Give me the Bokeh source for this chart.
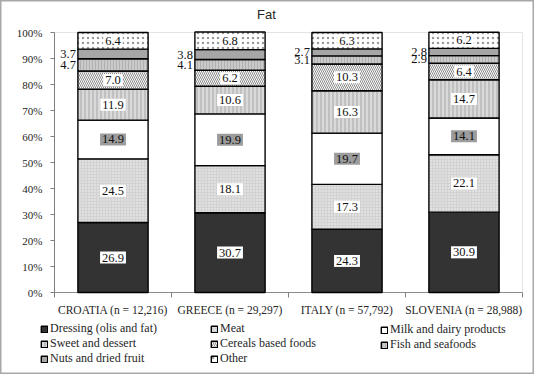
import numpy as np
from bokeh.plotting import figure
from bokeh.models import (ColumnDataSource, FixedTicker, Legend, LegendItem, Label,
                          PrintfTickFormatter, Range1d, BoxAnnotation)
from bokeh.core.properties import value
from bokeh.embed import file_html
from bokeh.resources import INLINE

countries = ["CROATIA (n = 12,216)", "GREECE (n = 29,297)", "ITALY (n = 57,792)", "SLOVENIA (n = 28,988)"]
groups = ["Dressing (olis and fat)", "Meat", "Milk and dairy products", "Sweet and dessert",
          "Cereals based foods", "Fish and seafoods", "Nuts and dried fruit", "Other"]
dressing = [26.9, 30.7, 24.3, 30.9]
meat = [24.5, 18.1, 17.3, 22.1]
milk = [14.9, 19.9, 19.7, 14.1]
sweet = [11.9, 10.6, 16.3, 14.7]
cereals = [7.0, 6.2, 10.3, 6.4]
fish = [4.7, 4.1, 3.1, 2.9]
nuts = [3.7, 3.8, 2.7, 2.8]
other = [6.4, 6.8, 6.3, 6.2]
y_ticks = [0, 10, 20, 30, 40, 50, 60, 70, 80, 90, 100]

series = [dressing, meat, milk, sweet, cereals, fish, nuts, other]
keys = ["s%d" % i for i in range(len(series))]
xs = [i + 0.5 for i in range(len(countries))]
BAR_W = 0.6

data = {"x": xs}
for k, s in zip(keys, series):
    data[k] = s
src = ColumnDataSource(data)

# geometry (pixels): figure 534x374; plot area inside it
W, H = 534, 374
PL, PR, PT, PB = 54, 522, 32, 292          # plot-area edges within the figure
NCAT, YMAX = len(countries), 100.0
ux = (PR - PL) / NCAT
uy = (PB - PT) / YMAX
x_range = Range1d(-PL / ux, NCAT + (W - PR) / ux)
y_range = Range1d(-(H - PB) / uy, YMAX + PT / uy)

SERIF = "Liberation Serif"
fills = ["#333333", "#d2d2d2", "#ffffff", "#c0c0c0", "#ffffff", "#cacaca", "#a6a6a6", "#ffffff"]
hatches = [None, "dot", None, "vertical_line", "left_diagonal_line", "vertical_line", None, "dot"]
hcolors = ["#000000", "#f4f4f4", "#000000", "#e2e2e2", "#8a8a8a", "#b0b0b0", "#000000", "#9a9a9a"]
hscales = [4, 3, 4, 4, 4, 3, 4, 5]
hweights = [1, 1, 1, 1.5, 1, 1, 1, 1]

p = figure(width=W, height=H, output_backend="svg", toolbar_location=None,
           x_range=x_range, y_range=y_range,
           min_border=0, min_border_left=0, min_border_right=0,
           min_border_top=0, min_border_bottom=0)
p.background_fill_color = "white"
p.border_fill_color = "white"
p.outline_line_color = "#a8a8a8"
p.outline_line_width = 2
p.xgrid.visible = False
p.ygrid.visible = False

# plot-area border
p.add_layout(BoxAnnotation(left=0, right=NCAT, bottom=0, top=YMAX, fill_alpha=0,
                           line_color="#a6a6a6", line_width=1, level="underlay"))

rends = p.vbar_stack(keys, x="x", width=BAR_W, source=src,
                     fill_color=fills, line_color="black", line_width=1.4,
                     hatch_pattern=hatches, hatch_color=hcolors, hatch_scale=hscales,
                     hatch_weight=hweights)

# value labels
arr = np.array(series)
cum = np.cumsum(arr, axis=0)
centers = cum - arr / 2.0
box_idx = [0, 1, 3, 4, 7]
for i in box_idx:
    s = ColumnDataSource(dict(x=xs, y=list(centers[i]), t=["%.1f" % v for v in series[i]]))
    p.text(x="x", y="y", text="t", source=s, text_font=value(SERIF), text_font_size="12.5px",
           text_align="center", text_baseline="middle", text_color="#111111",
           background_fill_color="white", padding=2)
s = ColumnDataSource(dict(x=xs, y=list(centers[2]), t=["%.1f" % v for v in milk]))
p.text(x="x", y="y", text="t", source=s, text_font=value(SERIF), text_font_size="12.5px",
       text_align="center", text_baseline="middle", text_color="#111111",
       background_fill_color="#9c9c9c", padding=2)
for i in [5, 6]:
    s = ColumnDataSource(dict(x=[x - BAR_W / 2 for x in xs], y=list(centers[i]),
                              t=["%.1f" % v for v in series[i]]))
    p.text(x="x", y="y", text="t", source=s, text_font=value(SERIF), text_font_size="12.5px",
           text_align="right", text_baseline="middle", text_color="#111111", x_offset=-2)

# axes (drawn at fixed data locations inside the frame)
ya = p.yaxis[0]
ya.fixed_location = 0
ya.bounds = (0, YMAX)
ya.ticker = FixedTicker(ticks=y_ticks, minor_ticks=[])
ya.formatter = PrintfTickFormatter(format="%d%%")
ya.major_tick_out = 4
ya.major_tick_in = 0
ya.major_label_standoff = 8
ya.axis_line_color = "#7f7f7f"
ya.major_tick_line_color = "#7f7f7f"
ya.major_label_text_font = SERIF
ya.major_label_text_font_size = "11px"
ya.major_label_text_color = "#262626"

xa = p.xaxis[0]
xa.fixed_location = 0
xa.bounds = (0, NCAT)
xa.level = "underlay"
xa.ticker = FixedTicker(ticks=xs, minor_ticks=list(range(NCAT + 1)))
xa.major_label_overrides = {x: c for x, c in zip(xs, countries)}
xa.major_tick_out = 0
xa.major_tick_in = 0
xa.minor_tick_out = 5
xa.minor_tick_in = 0
xa.minor_tick_line_color = "#7f7f7f"
xa.axis_line_color = "#7f7f7f"
xa.major_label_standoff = 6
xa.major_label_text_font = SERIF
xa.major_label_text_font_size = "11.5px"
xa.major_label_text_color = "#262626"

# title
p.add_layout(Label(x=266, y=H - 14, x_units="screen", y_units="screen", text="Fat",
                   text_font="Liberation Sans", text_font_size="13px", text_color="#262626",
                   text_align="center", text_baseline="middle"))

# legends
cols = [([0, 3, 6], 40, 8), ([1, 4, 7], 210, 8), ([2, 5], 380, 22)]
for idxs, lx, ly in cols:
    leg = Legend(items=[LegendItem(label=groups[i], renderers=[rends[i]]) for i in idxs],
                 location=(lx, ly), orientation="vertical",
                 glyph_width=8, glyph_height=8, label_standoff=2, spacing=0,
                 label_height=14, padding=0, margin=0,
                 border_line_color=None, background_fill_alpha=0,
                 label_text_font=SERIF, label_text_font_size="12px",
                 label_text_color="#262626")
    p.add_layout(leg)

open("out.html", "w").write(file_html(p, INLINE))
